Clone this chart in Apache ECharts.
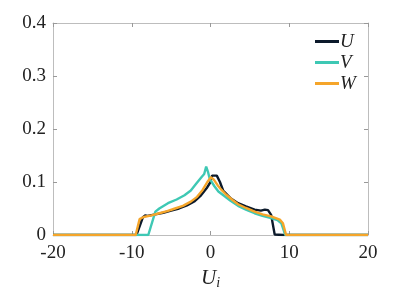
<!DOCTYPE html>
<html><head><meta charset="utf-8">
<script src="https://cdn.jsdelivr.net/npm/echarts@6/dist/echarts.min.js"></script>
<style>html,body{margin:0;padding:0;background:#fff;overflow:hidden}#c{width:407px;height:291px}</style>
</head><body><div id="c"></div>
<script>
const uX = [-20, -9.4, -8.6, -8.3, -8.0, -7, -6, -5, -4, -3, -2, -1.2, -0.5, 0, 0.2, 0.8, 1.2, 1.6, 2.5, 3.5, 4.5, 5.6, 6.4, 6.9, 7.3, 7.7, 8.15, 9.2, 20];
const uY = [0, 0, 0.033, 0.037, 0.036, 0.039, 0.042, 0.046, 0.050, 0.056, 0.064, 0.075, 0.088, 0.100, 0.112, 0.112, 0.100, 0.084, 0.070, 0.060, 0.054, 0.048, 0.046, 0.048, 0.047, 0.038, 0.001, 0, 0];
const vX = [-20, -7.9, -7.0, -6.5, -5.4, -4.3, -3.3, -2.5, -1.8, -1.1, -0.8, -0.55, -0.3, -0.1, 0.5, 1.0, 1.8, 2.5, 3.5, 4.5, 5.6, 6.6, 7.7, 8.5, 9.0, 9.5, 20];
const vY = [0, 0, 0.044, 0.050, 0.060, 0.067, 0.075, 0.084, 0.097, 0.110, 0.115, 0.129, 0.118, 0.106, 0.092, 0.082, 0.073, 0.065, 0.055, 0.048, 0.041, 0.036, 0.032, 0.028, 0.022, 0, 0];
const wX = [-20, -9.5, -9.0, -8.5, -7.5, -6.5, -5.5, -4.5, -3.5, -2.5, -1.7, -1.0, -0.4, 0.05, 0.4, 0.9, 1.4, 2.0, 2.8, 3.5, 4.5, 5.6, 6.6, 7.7, 8.8, 9.2, 9.6, 20];
const wY = [0, 0, 0.030, 0.034, 0.037, 0.041, 0.045, 0.050, 0.055, 0.063, 0.072, 0.085, 0.100, 0.109, 0.105, 0.094, 0.085, 0.076, 0.066, 0.058, 0.051, 0.044, 0.039, 0.035, 0.029, 0.022, 0, 0];
const seriesNames = ['U', 'V', 'W'];
const colors = ['#0c1a2b', '#3ec8b4', '#f5a52a'];

const FONT = 'Liberation Serif';
const pairs = (xs, ys) => xs.map((x, i) => [x, ys[i]]);
const datasets = [pairs(uX, uY), pairs(vX, vY), pairs(wX, wY)];
const axisColor = '#bdbdbd';
const chart = echarts.init(document.getElementById('c'), null, {renderer: 'canvas'});
chart.setOption({
  animation: false,
  backgroundColor: '#fff',
  grid: {left: 53, right: 39, top: 23, bottom: 56, containLabel: false, outerBoundsMode: 'none'},
  legend: {
    data: seriesNames,
    orient: 'vertical',
    left: 310, top: 27,
    itemWidth: 24, itemHeight: 12, itemGap: 2,
    textStyle: {fontFamily: FONT, fontStyle: 'italic', fontSize: 19, color: '#222', padding: [0, 0, 0, -4]},
    icon: 'path://M0,5 L24,5 L24,8 L0,8 Z'
  },
  xAxis: [{
    type: 'value', min: -20, max: 20, interval: 10,
    axisLine: {show: true, onZero: false, lineStyle: {color: axisColor, width: 1}},
    axisTick: {show: true, inside: true, length: 4, lineStyle: {color: '#999'}},
    splitLine: {show: false},
    axisLabel: {fontFamily: FONT, fontSize: 19, color: '#222', margin: 9},
    name: '{a|U}{b|i}', nameLocation: 'middle', nameGap: 29,
    nameTextStyle: {rich: {
      a: {fontFamily: FONT, fontStyle: 'italic', fontSize: 21, color: '#222'},
      b: {fontFamily: FONT, fontStyle: 'italic', fontSize: 14, color: '#222', verticalAlign: 'bottom', padding: [10, 0, 0, 0]}
    }}
  }, {
    type: 'value', min: -20, max: 20, interval: 10, position: 'top',
    axisLine: {show: true, onZero: false, lineStyle: {color: axisColor, width: 1}},
    axisTick: {show: true, inside: true, length: 4, lineStyle: {color: '#999'}},
    axisLabel: {show: false}, splitLine: {show: false}
  }],
  yAxis: [{
    type: 'value', min: 0, max: 0.4, interval: 0.1,
    axisLine: {show: true, onZero: false, lineStyle: {color: axisColor, width: 1}},
    axisTick: {show: true, inside: true, length: 4, lineStyle: {color: '#999'}},
    splitLine: {show: false},
    axisLabel: {fontFamily: FONT, fontSize: 19, color: '#222', margin: 7,
      formatter: v => v === 0 ? '0' : v.toFixed(1)}
  }, {
    type: 'value', min: 0, max: 0.4, interval: 0.1, position: 'right',
    axisLine: {show: true, onZero: false, lineStyle: {color: axisColor, width: 1}},
    axisTick: {show: true, inside: true, length: 4, lineStyle: {color: '#999'}},
    axisLabel: {show: false}, splitLine: {show: false}
  }],
  series: seriesNames.map((n, i) => ({
    name: n, type: 'line', data: datasets[i], symbol: 'none',
    color: colors[i],
    lineStyle: {width: 2.4, color: colors[i]},
    z: 2 + i
  }))
});
</script></body></html>
